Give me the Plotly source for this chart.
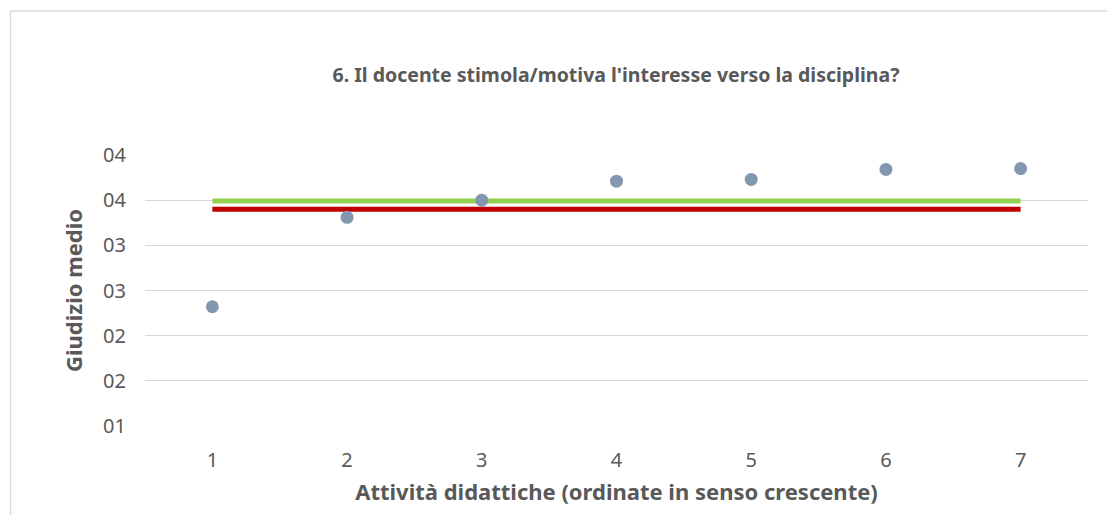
import plotly.graph_objects as go

# Data
categories = [1, 2, 3, 4, 5, 6, 7]
giudizio = [2.32, 3.31, 3.50, 3.71, 3.73, 3.84, 3.85]
media_verde = [3.49] * 7
media_rossa = [3.40] * 7
y_tick_vals = [1.0, 1.5, 2.0, 2.5, 3.0, 3.5, 4.0]
y_tick_text = ["01", "02", "02", "03", "03", "04", "04"]
x_tick_text = ["1", "2", "3", "4", "5", "6", "7"]

title_text = "6. Il docente stimola/motiva l'interesse verso la disciplina?"
x_title = "Attività didattiche (ordinate in senso crescente)"
y_title = "Giudizio medio"

FONT = "Noto Sans"
GREY = "#595959"

fig = go.Figure()
fig.add_trace(go.Scatter(x=categories, y=media_verde, mode="lines",
                         line=dict(color="#92D050", width=5), hoverinfo="skip"))
fig.add_trace(go.Scatter(x=categories, y=media_rossa, mode="lines",
                         line=dict(color="#C00000", width=5), hoverinfo="skip"))
fig.add_trace(go.Scatter(x=categories, y=giudizio, mode="markers",
                         marker=dict(color="#8497B0", size=13)))

# page has an 8px body margin, so the figure is drawn 8px smaller
W, H = 1107, 507
ml, mr, mt, mb = 137, 27, 147, 89
pw = W - ml - mr
ph = H - mt - mb

def px_x(p):
    return (p - ml) / pw

def px_y(p):
    return (H - mb - p) / ph

fig.update_layout(
    width=W, height=H,
    margin=dict(l=ml, r=mr, t=mt, b=mb),
    paper_bgcolor="white", plot_bgcolor="white",
    showlegend=False,
    font=dict(family=FONT, color=GREY),
    title=dict(text="<b>" + title_text + "</b>", x=px_x(608), xref="paper",
               xanchor="center", y=1 - 67 / H, yanchor="middle",
               font=dict(size=19.5, color=GREY, family=FONT)),
    xaxis=dict(range=[0.5, 7.5], tickmode="array", tickvals=categories,
               ticktext=x_tick_text, showgrid=False, zeroline=False,
               showline=False, ticks="", tickfont=dict(size=20, color=GREY),
               ticklabelstandoff=20,
               title=dict(text="<b>" + x_title + "</b>",
                          font=dict(size=22, color=GREY), standoff=12)),
    yaxis=dict(range=[1.0, 4.0], tickmode="array", tickvals=y_tick_vals,
               ticktext=y_tick_text, showgrid=True, gridcolor="#D9D9D9",
               gridwidth=1.3, zeroline=False, showline=False, ticks="",
               tickfont=dict(size=20, color=GREY), ticklabelstandoff=18,
               title=dict(text="<b>" + y_title + "</b>",
                          font=dict(size=22, color=GREY), standoff=14)),
    shapes=[
        dict(type="line", xref="paper", yref="paper",
             x0=px_x(2.5), x1=px_x(1120), y0=px_y(3), y1=px_y(3),
             line=dict(color="#D9D9D9", width=1.5)),
        dict(type="line", xref="paper", yref="paper",
             x0=px_x(2.5), x1=px_x(2.5), y0=px_y(3), y1=px_y(520),
             line=dict(color="#D9D9D9", width=1.5)),
    ],
)

fig.write_html("out.html")
